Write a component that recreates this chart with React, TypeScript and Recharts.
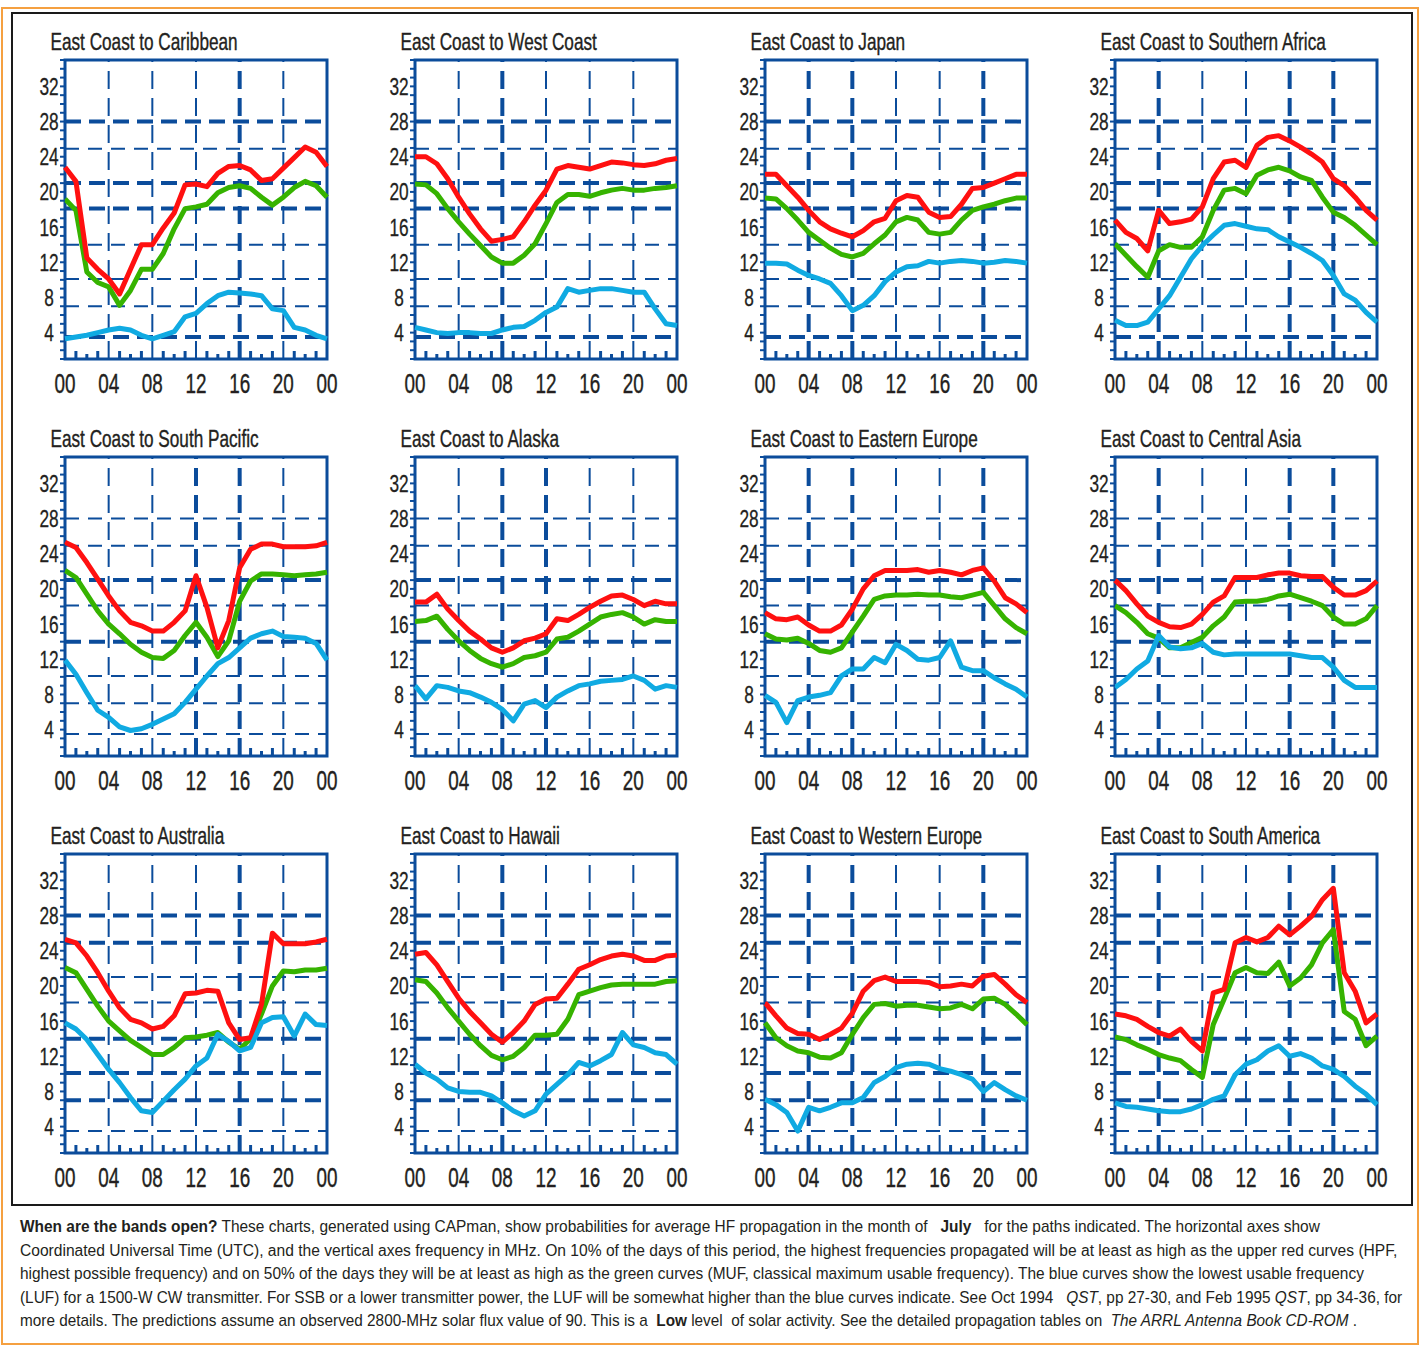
import React from 'react';
import { LineChart, Line, XAxis, YAxis, ReferenceLine, ReferenceArea } from 'recharts';

// hours UTC, one point per hour
const hours = [0, 1, 2, 3, 4, 5, 6, 7, 8, 9, 10, 11, 12, 13, 14, 15, 16, 17, 18, 19, 20, 21, 22, 23, 24];
const hourLabels: Record<number, string> = { 0: '00', 4: '04', 8: '08', 12: '12', 16: '16', 20: '20', 24: '00' };
const gridHours = [4, 8, 12, 16, 20];
const freqLabels = [4, 8, 12, 16, 20, 24, 28, 32];
const bandFreqs = [3.5, 7, 10.1, 14, 18.1, 21, 24.9, 28];

const caribbeanHpf = [22.8, 21.2, 12.5, 11.2, 10.1, 8.4, 11.2, 14.0, 14.0, 15.9, 17.6, 20.8, 20.9, 20.6, 22.1, 22.9, 23.0, 22.5, 21.3, 21.5, 22.7, 23.9, 25.1, 24.5, 22.9];
const caribbeanMuf = [19.2, 17.9, 10.9, 9.7, 9.2, 7.1, 8.8, 11.2, 11.2, 13.0, 15.8, 18.1, 18.3, 18.6, 19.9, 20.5, 20.7, 20.4, 19.4, 18.5, 19.4, 20.5, 21.2, 20.7, 19.4];
const caribbeanLuf = [3.3, 3.5, 3.7, 4.0, 4.3, 4.5, 4.3, 3.7, 3.3, 3.7, 4.1, 5.8, 6.2, 7.3, 8.2, 8.6, 8.5, 8.4, 8.2, 6.7, 6.5, 4.6, 4.3, 3.7, 3.3];

const westCoastHpf = [24.0, 24.0, 23.2, 21.5, 19.4, 17.5, 15.8, 14.4, 14.6, 14.9, 16.6, 18.5, 20.2, 22.6, 23.0, 22.8, 22.6, 23.0, 23.4, 23.3, 23.1, 23.0, 23.2, 23.6, 23.8];
const westCoastMuf = [20.9, 20.8, 19.8, 18.1, 16.6, 15.2, 13.9, 12.6, 11.9, 11.9, 12.8, 14.1, 16.4, 18.8, 19.7, 19.7, 19.5, 19.9, 20.2, 20.4, 20.2, 20.2, 20.4, 20.5, 20.7];
const westCoastLuf = [4.6, 4.3, 4.0, 3.9, 4.0, 4.0, 3.9, 3.9, 4.3, 4.6, 4.7, 5.4, 6.3, 6.9, 9.0, 8.6, 8.8, 9.0, 9.0, 8.8, 8.6, 8.6, 6.7, 5.0, 4.8];

const japanHpf = [22.0, 22.0, 20.7, 19.4, 17.9, 16.6, 15.8, 15.3, 14.9, 15.6, 16.6, 17.0, 19.0, 19.6, 19.4, 17.7, 17.1, 17.2, 18.6, 20.4, 20.5, 21.0, 21.5, 22.0, 22.0];
const japanMuf = [19.3, 19.2, 18.1, 16.8, 15.4, 14.5, 13.6, 12.9, 12.6, 13.0, 14.1, 15.1, 16.6, 17.1, 16.8, 15.4, 15.2, 15.4, 16.8, 17.9, 18.3, 18.6, 19.0, 19.3, 19.3];
const japanLuf = [11.9, 11.9, 11.8, 11.1, 10.5, 10.1, 9.6, 8.2, 6.5, 7.1, 8.2, 9.8, 10.9, 11.5, 11.6, 12.1, 11.9, 12.1, 12.2, 12.1, 11.9, 12.0, 12.2, 12.1, 11.9];

const southernAfricaHpf = [16.8, 15.4, 14.7, 13.3, 17.9, 16.4, 16.6, 16.9, 18.3, 21.5, 23.4, 23.6, 22.8, 25.3, 26.2, 26.4, 25.8, 25.1, 24.3, 23.4, 21.5, 20.7, 19.4, 17.9, 16.8];
const southernAfricaMuf = [14.1, 12.8, 11.5, 10.3, 13.3, 14.0, 13.7, 13.7, 14.9, 17.9, 20.2, 20.4, 19.8, 21.9, 22.5, 22.8, 22.4, 21.7, 21.3, 19.4, 17.7, 17.1, 16.2, 15.1, 14.0];
const southernAfricaLuf = [5.4, 4.8, 4.8, 5.2, 6.7, 8.2, 10.3, 12.4, 13.9, 15.1, 16.2, 16.4, 16.1, 15.8, 15.7, 14.9, 14.3, 13.7, 13.0, 12.2, 10.5, 8.4, 7.7, 6.3, 5.2];

const southPacificHpf = [25.3, 24.7, 23.0, 21.1, 19.2, 17.5, 16.2, 15.8, 15.2, 15.2, 16.2, 17.5, 21.5, 17.9, 13.3, 16.4, 22.4, 24.5, 25.1, 25.1, 24.8, 24.8, 24.8, 24.9, 25.3];
const southPacificMuf = [22.1, 21.3, 19.4, 17.5, 16.0, 14.9, 13.7, 12.8, 12.2, 12.1, 13.0, 14.7, 16.2, 14.5, 12.3, 14.1, 18.6, 20.9, 21.7, 21.7, 21.6, 21.5, 21.6, 21.7, 21.9];
const southPacificLuf = [11.9, 10.3, 8.2, 6.2, 5.4, 4.3, 3.9, 4.1, 4.6, 5.2, 5.8, 7.1, 8.6, 10.1, 11.5, 12.2, 13.3, 14.4, 14.9, 15.2, 14.6, 14.5, 14.4, 13.8, 11.9];

const alaskaHpf = [18.5, 18.5, 19.4, 17.7, 16.4, 15.2, 14.3, 13.3, 12.8, 13.3, 14.1, 14.4, 14.9, 16.6, 16.4, 17.1, 17.9, 18.6, 19.2, 19.3, 18.8, 18.1, 18.6, 18.3, 18.3];
const alaskaMuf = [16.3, 16.4, 16.9, 15.4, 14.1, 13.0, 12.1, 11.5, 11.1, 11.5, 12.2, 12.4, 12.8, 14.3, 14.5, 15.2, 16.0, 16.8, 17.1, 17.3, 16.8, 16.0, 16.5, 16.3, 16.3];
const alaskaLuf = [9.0, 7.5, 9.0, 8.8, 8.4, 8.2, 7.7, 7.1, 6.3, 5.0, 6.9, 7.3, 6.5, 7.7, 8.4, 9.0, 9.2, 9.5, 9.6, 9.7, 10.1, 9.6, 8.6, 9.0, 8.8];

const easternEuropeHpf = [17.3, 16.6, 16.5, 16.8, 15.9, 15.2, 15.2, 15.9, 17.7, 20.0, 21.5, 22.1, 22.1, 22.1, 22.2, 21.9, 22.1, 21.9, 21.6, 22.1, 22.4, 20.9, 19.0, 18.3, 17.3];
const easternEuropeMuf = [14.9, 14.3, 14.2, 14.4, 13.8, 13.0, 12.8, 13.3, 15.1, 16.9, 18.8, 19.2, 19.3, 19.3, 19.4, 19.3, 19.3, 19.1, 19.0, 19.3, 19.6, 18.1, 16.6, 15.6, 14.9];
const easternEuropeLuf = [7.9, 7.1, 4.8, 7.3, 7.7, 7.9, 8.2, 10.1, 10.9, 10.9, 12.2, 11.6, 13.7, 13.0, 12.0, 11.9, 12.2, 14.1, 11.1, 10.7, 10.7, 9.9, 9.2, 8.6, 7.7];

const centralAsiaHpf = [21.0, 19.8, 18.3, 16.9, 16.2, 15.7, 15.6, 16.0, 17.1, 18.5, 19.2, 21.3, 21.3, 21.3, 21.6, 21.8, 21.8, 21.5, 21.4, 21.4, 20.2, 19.3, 19.3, 19.8, 20.9];
const centralAsiaMuf = [18.1, 17.3, 16.2, 14.9, 14.4, 13.3, 13.3, 13.9, 14.5, 15.8, 16.8, 18.5, 18.6, 18.6, 18.8, 19.2, 19.4, 19.0, 18.6, 18.1, 16.8, 16.0, 16.0, 16.6, 18.1];
const centralAsiaLuf = [8.8, 9.7, 10.9, 11.8, 14.7, 13.4, 13.2, 13.3, 13.8, 12.8, 12.5, 12.6, 12.6, 12.6, 12.6, 12.6, 12.6, 12.4, 12.2, 12.2, 11.1, 9.6, 8.8, 8.8, 8.8];

const australiaHpf = [25.3, 24.9, 23.4, 21.5, 19.4, 17.5, 16.2, 15.8, 15.1, 15.4, 16.6, 19.1, 19.2, 19.5, 19.4, 15.8, 13.9, 14.1, 17.9, 26.0, 24.8, 24.8, 24.8, 25.0, 25.3];
const australiaMuf = [22.1, 21.5, 19.6, 17.7, 16.0, 14.9, 13.8, 13.0, 12.2, 12.2, 13.0, 14.1, 14.2, 14.4, 14.7, 13.6, 12.8, 14.0, 16.8, 20.0, 21.7, 21.6, 21.8, 21.8, 22.0];
const australiaLuf = [15.8, 15.1, 13.9, 12.2, 10.5, 9.0, 7.3, 5.8, 5.6, 6.9, 8.2, 9.4, 10.9, 11.8, 14.5, 13.7, 12.6, 13.0, 15.8, 16.4, 16.5, 14.3, 16.8, 15.6, 15.5];

const hawaiiHpf = [23.6, 23.8, 22.4, 20.5, 18.6, 17.1, 15.8, 14.5, 13.6, 14.7, 16.0, 17.9, 18.5, 18.6, 20.2, 21.9, 22.4, 23.0, 23.4, 23.6, 23.4, 22.9, 22.9, 23.4, 23.5];
const hawaiiMuf = [20.7, 20.5, 19.2, 17.5, 16.0, 14.5, 13.2, 12.1, 11.6, 12.0, 13.0, 14.4, 14.4, 14.5, 16.2, 19.0, 19.4, 19.8, 20.1, 20.2, 20.2, 20.2, 20.2, 20.5, 20.6];
const hawaiiLuf = [11.1, 10.1, 9.4, 8.4, 8.0, 7.9, 7.9, 7.5, 6.7, 5.8, 5.2, 5.8, 7.7, 8.8, 9.9, 11.3, 10.9, 11.5, 12.2, 14.7, 13.3, 13.0, 12.4, 12.2, 11.1];

const westernEuropeHpf = [18.1, 16.6, 15.2, 14.6, 14.5, 13.9, 14.5, 15.2, 16.9, 19.4, 20.6, 21.0, 20.5, 20.5, 20.5, 20.4, 19.9, 20.0, 20.2, 20.0, 21.1, 21.3, 20.2, 19.0, 18.1];
const westernEuropeMuf = [15.8, 14.1, 13.2, 12.6, 12.4, 11.9, 11.8, 12.4, 14.5, 16.4, 17.9, 18.0, 17.7, 17.8, 17.8, 17.6, 17.4, 17.5, 17.9, 17.4, 18.5, 18.6, 17.9, 16.8, 15.6];
const westernEuropeLuf = [7.1, 6.5, 5.6, 3.5, 6.2, 5.8, 6.2, 6.7, 6.7, 7.3, 9.0, 9.7, 10.7, 11.1, 11.2, 11.1, 10.6, 10.3, 9.9, 9.4, 8.0, 9.0, 8.2, 7.5, 7.0];

const southAmericaHpf = [16.8, 16.6, 16.2, 15.4, 14.7, 14.3, 15.1, 13.7, 12.6, 19.2, 19.6, 24.9, 25.5, 25.0, 25.5, 26.8, 25.8, 26.8, 27.9, 29.8, 31.1, 21.5, 19.4, 15.8, 16.8];
const southAmericaMuf = [14.2, 13.9, 13.3, 12.8, 12.2, 11.8, 11.5, 10.5, 9.6, 15.6, 18.5, 21.5, 22.1, 21.5, 21.4, 22.7, 20.0, 20.9, 22.4, 24.9, 26.4, 17.1, 16.2, 13.2, 14.3];
const southAmericaLuf = [6.7, 6.3, 6.2, 6.0, 5.8, 5.7, 5.7, 6.0, 6.5, 7.1, 7.5, 9.9, 11.1, 11.6, 12.6, 13.2, 12.0, 12.3, 11.8, 10.9, 10.5, 9.7, 8.6, 7.7, 6.5];

const paths = [
  { title: 'East Coast to Caribbean', hpf: caribbeanHpf, muf: caribbeanMuf, luf: caribbeanLuf },
  { title: 'East Coast to West Coast', hpf: westCoastHpf, muf: westCoastMuf, luf: westCoastLuf },
  { title: 'East Coast to Japan', hpf: japanHpf, muf: japanMuf, luf: japanLuf },
  { title: 'East Coast to Southern Africa', hpf: southernAfricaHpf, muf: southernAfricaMuf, luf: southernAfricaLuf },
  { title: 'East Coast to South Pacific', hpf: southPacificHpf, muf: southPacificMuf, luf: southPacificLuf },
  { title: 'East Coast to Alaska', hpf: alaskaHpf, muf: alaskaMuf, luf: alaskaLuf },
  { title: 'East Coast to Eastern Europe', hpf: easternEuropeHpf, muf: easternEuropeMuf, luf: easternEuropeLuf },
  { title: 'East Coast to Central Asia', hpf: centralAsiaHpf, muf: centralAsiaMuf, luf: centralAsiaLuf },
  { title: 'East Coast to Australia', hpf: australiaHpf, muf: australiaMuf, luf: australiaLuf },
  { title: 'East Coast to Hawaii', hpf: hawaiiHpf, muf: hawaiiMuf, luf: hawaiiLuf },
  { title: 'East Coast to Western Europe', hpf: westernEuropeHpf, muf: westernEuropeMuf, luf: westernEuropeLuf },
  { title: 'East Coast to South America', hpf: southAmericaHpf, muf: southAmericaMuf, luf: southAmericaLuf },
];

// which grid lines are drawn heavy (per row for bands, per panel for hours)
const heavyBandsByRow = [[28, 21, 18.1, 3.5], [21, 14], [28, 24.9, 14, 10.1, 7]];
const heavyHoursByPanel = [[16], [8], [4, 8, 20], [4, 16, 20], [12, 16], [8, 12], [4, 8, 20], [4, 16, 20], [16], [8], [4, 8, 20], [4, 16, 20]];

type Seg = { t: string; b?: boolean; i?: boolean };
const captionLines: Seg[][] = [
  [{ t: 'When are the bands open?', b: true }, { t: ' These charts, generated using CAPman, show probabilities for average HF propagation in the month of   ' }, { t: 'July', b: true }, { t: '   for the paths indicated. The horizontal axes show' }],
  [{ t: 'Coordinated Universal Time (UTC), and the vertical axes frequency in MHz. On 10% of the days of this period, the highest frequencies propagated will be at least as high as the upper red curves (HPF,' }],
  [{ t: 'highest possible frequency) and on 50% of the days they will be at least as high as the green curves (MUF, classical maximum usable frequency). The blue curves show the lowest usable frequency' }],
  [{ t: '(LUF) for a 1500-W CW transmitter. For SSB or a lower transmitter power, the LUF will be somewhat higher than the blue curves indicate. See Oct 1994   ' }, { t: 'QST', i: true }, { t: ', pp 27-30, and Feb 1995 ' }, { t: 'QST', i: true }, { t: ', pp 34-36, for' }],
  [{ t: 'more details. The predictions assume an observed 2800-MHz solar flux value of 90. This is a  ' }, { t: 'Low', b: true }, { t: ' level  of solar activity. See the detailed propagation tables on  ' }, { t: 'The ARRL Antenna Book CD-ROM', i: true }, { t: ' .' }],
];
const captionWidths = [1302, 1378, 1345, 1383, 1340];

const NAVY = '#0b4c9b';
const INK = '#231f20';
const FONT_NAME = '"Liberation Sans", Arial, Helvetica, sans-serif';
const CAPTION_SIZE = 16;
const minorFreqs = Array.from({ length: 35 }, (_, i) => i + 1);

// natural width of a caption line, so it can be squeezed to the reference width
function lineWidth(segs: Seg[]) {
  const ctx = document.createElement('canvas').getContext('2d');
  if (!ctx) return 1;
  let w = 0;
  for (const s of segs) {
    ctx.font = `${s.i ? 'italic ' : ''}${s.b ? 'bold ' : ''}${CAPTION_SIZE}px ${FONT_NAME}`;
    w += ctx.measureText(s.t).width;
  }
  return w || 1;
}

function HourTick(props: any) {
  const { x, y, payload } = props;
  const h = payload.value as number;
  const label = hourLabels[h];
  const len = h % 2 === 1 ? 8 : 5;
  return (
    <g>
      {h % 4 !== 0 && <line x1={x} x2={x} y1={y} y2={y - len} stroke={NAVY} strokeWidth={3} />}
      {label !== undefined && (
        <text
          transform={`translate(${x},${y + 34}) scale(0.7,1)`}
          textAnchor="middle"
          fontSize={27}
          fill={INK}
          stroke={INK}
          strokeWidth={0.4}
          fontFamily={FONT_NAME}
        >
          {label}
        </text>
      )}
    </g>
  );
}

function FreqTick(props: any) {
  const { x, y, payload } = props;
  const v = payload.value as number;
  return (
    <g>
      <line x1={x - 5} x2={x} y1={y} y2={y} stroke={NAVY} strokeWidth={2} />
      {freqLabels.includes(v) && (
        <text
          transform={`translate(${x - 16},${y + 8.5}) scale(0.72,1)`}
          textAnchor="middle"
          fontSize={24}
          fill={INK}
          stroke={INK}
          strokeWidth={0.3}
          fontFamily={FONT_NAME}
        >
          {v}
        </text>
      )}
    </g>
  );
}

function PathChart({ idx }: { idx: number }) {
  const p = paths[idx];
  const col = idx % 4;
  const row = Math.floor(idx / 4);
  const data = hours.map((h, i) => ({ h, hpf: p.hpf[i], muf: p.muf[i], luf: p.luf[i] }));
  const heavyBands = heavyBandsByRow[row];
  const heavyHours = heavyHoursByPanel[idx];
  return (
    <div style={{ position: 'absolute', left: 15 + 350 * col, top: 20 + 397 * row }}>
      <LineChart width={340} height={390} data={data} margin={{ top: 40, right: 28, left: 10, bottom: 11 }}>
        <XAxis
          dataKey="h"
          type="number"
          domain={[0, 24]}
          ticks={hours}
          interval={0}
          height={40}
          axisLine={false}
          tickLine={false}
          tickSize={0}
          tickMargin={0}
          tick={(t: any) => <HourTick {...t} />}
        />
        <YAxis
          type="number"
          domain={[1, 35]}
          ticks={minorFreqs}
          interval={0}
          width={40}
          axisLine={false}
          tickLine={false}
          tickSize={0}
          tickMargin={0}
          tick={(t: any) => <FreqTick {...t} />}
        />
        {bandFreqs.map((f) => {
          const heavy = heavyBands.includes(f);
          return (
            <ReferenceLine
              key={`b${f}`}
              y={f}
              stroke={NAVY}
              strokeWidth={heavy ? 4 : 2}
              strokeDasharray={heavy ? '16 8' : '14 9'}
            />
          );
        })}
        {gridHours.map((h) => {
          const heavy = heavyHours.includes(h);
          return (
            <ReferenceLine
              key={`h${h}`}
              x={h}
              stroke={NAVY}
              strokeWidth={heavy ? 4 : 2}
              strokeDasharray="18 9"
            />
          );
        })}
        <ReferenceArea x1={0} x2={24} y1={1} y2={35} fill="none" stroke={NAVY} strokeWidth={3} />
        <Line type="linear" dataKey="muf" stroke="#36b300" strokeWidth={5} dot={false} isAnimationActive={false} strokeLinejoin="round" />
        <Line type="linear" dataKey="hpf" stroke="#ff1010" strokeWidth={5} dot={false} isAnimationActive={false} strokeLinejoin="round" />
        <Line type="linear" dataKey="luf" stroke="#10aae2" strokeWidth={5} dot={false} isAnimationActive={false} strokeLinejoin="round" />
      </LineChart>
    </div>
  );
}

export default function App() {
  const scales = captionLines.map((line, li) => captionWidths[li] / lineWidth(line));
  return (
    <div style={{ position: 'absolute', left: 0, top: 0, width: 1421, height: 1347, background: '#fff' }}>
      <svg width={1421} height={1347} style={{ position: 'absolute', left: 0, top: 0 }}>
        <rect x={2} y={8} width={1416} height={1336} fill="none" stroke="#f5a040" strokeWidth={2} />
        <rect x={12} y={13} width={1400} height={1192} fill="none" stroke="#1a1a1a" strokeWidth={2} />
        {paths.map((p, idx) => (
          <text
            key={p.title}
            transform={`translate(${50.5 + 350 * (idx % 4)},${50 + 397 * Math.floor(idx / 4)}) scale(0.716,1)`}
            fontSize={24}
            fill={INK}
            stroke={INK}
            strokeWidth={0.4}
            fontFamily={FONT_NAME}
          >
            {p.title}
          </text>
        ))}
        {captionLines.map((line, li) => (
          <text
            key={li}
            transform={`translate(20,${1232 + 23.5 * li}) scale(${scales[li]},1)`}
            fontSize={CAPTION_SIZE}
            fill={INK}
            fontFamily={FONT_NAME}
            style={{ whiteSpace: 'pre' }}
          >
            {line.map((s, si) => (
              <tspan key={si} fontWeight={s.b ? 'bold' : 'normal'} fontStyle={s.i ? 'italic' : 'normal'}>
                {s.t}
              </tspan>
            ))}
          </text>
        ))}
      </svg>
      {paths.map((p, idx) => (
        <PathChart key={p.title} idx={idx} />
      ))}
    </div>
  );
}
